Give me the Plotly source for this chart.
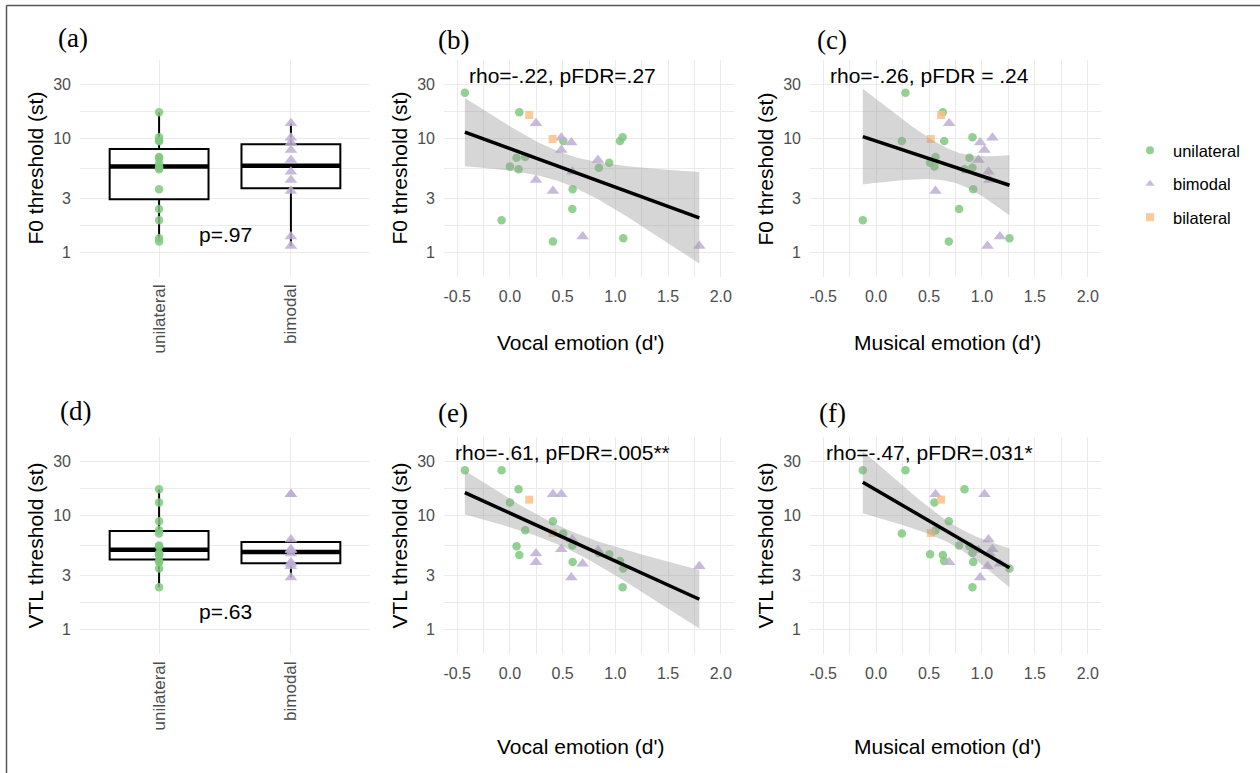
import numpy as np
import plotly.graph_objects as go

W, H = 1260, 773

# ---------------- data ----------------
groups = ["unilateral", "bimodal", "bilateral"]
colors = {"unilateral": "#7FC97F", "bimodal": "#BEAED4", "bilateral": "#FDC086"}
symbols = {"unilateral": "circle", "bimodal": "triangle-up", "bilateral": "square"}

# unilateral participants
uni_vocal   = [-0.427, -0.079, 0.000, 0.063, 0.082, 0.089, 0.145, 0.408, 0.506, 0.592, 0.595, 0.844, 0.942, 1.044, 1.069, 1.075]
uni_musical = [ 0.277, -0.126, 0.551, 0.882, 0.835, 0.630, 0.561, 0.687, 0.243, 0.784, 0.917, 0.910, 0.510, 0.643, 0.910, 1.260]
uni_f0      = [25.2, 1.93, 5.69, 6.81, 5.39, 17.0, 6.90, 1.26, 9.53, 2.42, 3.60, 5.57, 6.16, 9.53, 10.3, 1.34]
uni_vtl     = [24.9, 24.9, 13.0, 5.39, 17.0, 4.53, 7.44, 8.92, 6.96, 5.47, 3.93, 4.70, 4.60, 4.01, 2.36, 3.44]

# bimodal participants
bim_vocal   = [0.247, 0.487, 0.582, 0.487, 0.835, 0.592, 0.247, 0.408, 0.690, 1.796]
bim_musical = [0.690, 1.099, 0.983, 1.024, 0.967, 1.062, 1.070, 0.561, 1.170, 1.052]
bim_f0      = [13.6, 10.2, 9.27, 7.95, 6.50, 5.14, 4.35, 3.48, 1.39, 1.15]
bim_vtl     = [3.90, 5.08, 2.87, 15.4, 4.97, 6.17, 4.65, 15.4, 3.80, 3.60]

# bilateral participants
bil_vocal   = [0.183, 0.405]
bil_musical = [0.614, 0.517]
bil_f0      = [16.1, 9.93]
bil_vtl     = [13.8, 7.05]

CEILING = 24.0  # threshold values at ceiling are not in the group boxplots

stats_text = {
    "b": "rho=-.22, pFDR=.27",
    "c": "rho=-.26, pFDR = .24",
    "e": "rho=-.61, pFDR=.005**",
    "f": "rho=-.47, pFDR=.031*",
}
p_text = {"a": "p=.97", "d": "p=.63"}
cat_labels = ["unilateral", "bimodal"]
x_ticks = [-0.5, 0.0, 0.5, 1.0, 1.5, 2.0]
y_ticks = [1, 3, 10, 30]

T975_DF26 = 2.0555  # t quantile for 95% CI with n=28

data = {
    "unilateral": dict(vocal=uni_vocal, musical=uni_musical, f0=uni_f0, vtl=uni_vtl),
    "bimodal": dict(vocal=bim_vocal, musical=bim_musical, f0=bim_f0, vtl=bim_vtl),
    "bilateral": dict(vocal=bil_vocal, musical=bil_musical, f0=bil_f0, vtl=bil_vtl),
}

# ---------------- layout geometry (pixels) ----------------
col_px = [(80, 370), (444, 734), (810, 1101)]
row_px = [(60, 277), (437, 654)]


def px_x(x):
    return x / W


def px_y(y):
    return 1 - y / H


fig = go.Figure()

FONT = "Liberation Sans"
TICKFONT = dict(family=FONT, size=16, color="#4D4D4D")
GRID = "#EBEBEB"
YRANGE = [-0.211, 1.688]

layout_axes = {}
panel_ids = [["a", "b", "c"], ["d", "e", "f"]]
axis_n = {}
n = 0
for r in range(2):
    for c in range(3):
        n += 1
        pid = panel_ids[r][c]
        axis_n[pid] = n
        sfx = "" if n == 1 else str(n)
        xd = [px_x(col_px[c][0]), px_x(col_px[c][1])]
        yd = [px_y(row_px[r][1]), px_y(row_px[r][0])]
        yax = dict(type="log", range=YRANGE, domain=yd, anchor="x" + sfx,
                   tickmode="array", tickvals=y_ticks, ticktext=[str(v) for v in y_ticks],
                   showgrid=True, gridcolor=GRID, gridwidth=1.2,
                   minor=dict(tickmode="array", tickvals=[3 ** 0.5, 30 ** 0.5, 300 ** 0.5],
                              showgrid=True, gridcolor=GRID, gridwidth=0.6, ticks=""),
                   zeroline=False, showline=False, ticks="", tickfont=TICKFONT,
                   ticklabelstandoff=8)
        if c == 0:
            xax = dict(range=[0.4, 2.6], domain=xd, anchor="y" + sfx,
                       tickmode="array", tickvals=[1, 2], ticktext=cat_labels, tickangle=-90,
                       showgrid=True, gridcolor=GRID, gridwidth=1.2, zeroline=False,
                       showline=False, ticks="", tickfont=dict(family=FONT, size=17, color="#4D4D4D"),
                       ticklabelstandoff=3)
        else:
            xax = dict(range=[-0.625, 2.125], domain=xd, anchor="y" + sfx,
                       tickmode="array", tickvals=x_ticks, ticktext=["%.1f" % v for v in x_ticks],
                       showgrid=True, gridcolor=GRID, gridwidth=1.2,
                       minor=dict(tickmode="array", tickvals=[-0.25, 0.25, 0.75, 1.25, 1.75],
                                  showgrid=True, gridcolor=GRID, gridwidth=0.6, ticks=""),
                       zeroline=False, showline=False, ticks="", tickfont=TICKFONT,
                       ticklabelstandoff=8)
        layout_axes["xaxis" + sfx] = xax
        layout_axes["yaxis" + sfx] = yax


def refs(pid):
    k = axis_n[pid]
    s = "" if k == 1 else str(k)
    return "x" + s, "y" + s


MS = {"circle": 8.5, "triangle-up": 11, "square": 8}

# ---------------- box panels ----------------
BOXW = 0.75
for pid, var in (("a", "f0"), ("d", "vtl")):
    xr, yr = refs(pid)
    for i, g in enumerate(["unilateral", "bimodal"]):
        vals = [v for v in data[g][var] if v < CEILING]
        lv = np.log10(vals)
        q1, med, q3 = np.quantile(lv, [0.25, 0.5, 0.75])
        iqr = q3 - q1
        lo = lv[lv >= q1 - 1.5 * iqr].min()
        hi = lv[lv <= q3 + 1.5 * iqr].max()
        xpos = i + 1
        fig.add_trace(go.Box(x=[xpos], q1=[10 ** q1], median=[10 ** med], q3=[10 ** q3],
                             lowerfence=[10 ** lo], upperfence=[10 ** hi], width=BOXW,
                             fillcolor="white", line=dict(color="black", width=2),
                             whiskerwidth=0, boxpoints=False, showlegend=False,
                             hoverinfo="skip", xaxis=xr, yaxis=yr))
        fig.add_trace(go.Scatter(x=[xpos - BOXW / 2, xpos + BOXW / 2], y=[10 ** med, 10 ** med],
                                 mode="lines", line=dict(color="black", width=4.5),
                                 showlegend=False, hoverinfo="skip", xaxis=xr, yaxis=yr))
        fig.add_trace(go.Scatter(x=[xpos] * len(vals), y=vals, mode="markers",
                                 marker=dict(color=colors[g], symbol=symbols[g],
                                             size=MS[symbols[g]], opacity=0.85),
                                 showlegend=False, hoverinfo="skip", xaxis=xr, yaxis=yr))
    fig.add_annotation(x=1.5, y=np.log10(1.44), xref=xr, yref=yr, text=p_text[pid],
                       showarrow=False, xanchor="center", yanchor="middle",
                       font=dict(family=FONT, size=21, color="black"))

# ---------------- scatter panels ----------------
for pid, xvar, yvar in (("b", "vocal", "f0"), ("c", "musical", "f0"),
                        ("e", "vocal", "vtl"), ("f", "musical", "vtl")):
    xr, yr = refs(pid)
    allx, ally = [], []
    for g in groups:
        xs = data[g][xvar]
        ys = data[g][yvar]
        allx += xs
        ally += ys
        fig.add_trace(go.Scatter(x=xs, y=ys, mode="markers",
                                 marker=dict(color=colors[g], symbol=symbols[g],
                                             size=MS[symbols[g]], opacity=0.85),
                                 showlegend=False, hoverinfo="skip", xaxis=xr, yaxis=yr))
    # linear fit on log10 scale with 95% CI
    X = np.array(allx)
    Y = np.log10(np.array(ally))
    nn = len(X)
    b1, b0 = np.polyfit(X, Y, 1)
    res = Y - (b0 + b1 * X)
    s = np.sqrt((res ** 2).sum() / (nn - 2))
    xg = np.linspace(X.min(), X.max(), 80)
    fit = b0 + b1 * xg
    se = s * np.sqrt(1 / nn + (xg - X.mean()) ** 2 / ((X - X.mean()) ** 2).sum())
    up = fit + T975_DF26 * se
    lo = fit - T975_DF26 * se
    fig.add_trace(go.Scatter(x=np.concatenate([xg, xg[::-1]]),
                             y=10 ** np.concatenate([up, lo[::-1]]),
                             fill="toself", fillcolor="rgba(153,153,153,0.4)",
                             line=dict(width=0), mode="lines", showlegend=False,
                             hoverinfo="skip", xaxis=xr, yaxis=yr))
    fig.add_trace(go.Scatter(x=xg, y=10 ** fit, mode="lines",
                             line=dict(color="black", width=3.5), showlegend=False,
                             hoverinfo="skip", xaxis=xr, yaxis=yr))
    fig.add_annotation(x=0.5, y=np.log10(36), xref=xr, yref=yr, text=stats_text[pid],
                       showarrow=False, xanchor="center", yanchor="middle",
                       font=dict(family=FONT, size=21, color="black"))

# ---------------- legend ----------------
for g in groups:
    fig.add_trace(go.Scatter(x=[None], y=[None], mode="markers", name=g, legendgroup=g,
                             marker=dict(color=colors[g], symbol=symbols[g], size=8, opacity=0.85)))

# ---------------- titles ----------------
ann = []
ytitles = ["F0 threshold (st)", "VTL threshold (st)"]
ytitle_x = [35, 399, 765]
xtitle = {1: "Vocal emotion (d')", 2: "Musical emotion (d')"}
xtitle_x = {1: 580, 2: 947}
xtitle_y = [342, 746]
for r in range(2):
    yc = (row_px[r][0] + row_px[r][1]) / 2
    for c in range(3):
        ann.append(dict(x=px_x(ytitle_x[c]), y=px_y(yc), xref="paper", yref="paper",
                        text=ytitles[r], textangle=-90, showarrow=False,
                        xanchor="center", yanchor="middle",
                        font=dict(family=FONT, size=21, color="black")))
        if c > 0:
            ann.append(dict(x=px_x(xtitle_x[c]), y=px_y(xtitle_y[r]), xref="paper", yref="paper",
                            text=xtitle[c], showarrow=False, xanchor="center", yanchor="middle",
                            font=dict(family=FONT, size=21, color="black")))

panel_pos = {"a": (73, 38), "b": (453, 40), "c": (832, 40),
             "d": (75, 411), "e": (453, 413), "f": (832, 413)}
for pid, (px, py) in panel_pos.items():
    ann.append(dict(x=px_x(px), y=px_y(py), xref="paper", yref="paper", text="(%s)" % pid,
                    showarrow=False, xanchor="center", yanchor="middle",
                    font=dict(family="Liberation Serif", size=27, color="black")))

for a in ann:
    fig.add_annotation(**a)

# frame
fig.add_shape(type="line", xref="paper", yref="paper", x0=px_x(6.5), x1=1, y0=px_y(5.5), y1=px_y(5.5),
              line=dict(color="#555555", width=1.5))
fig.add_shape(type="line", xref="paper", yref="paper", x0=px_x(6.5), x1=px_x(6.5), y0=0, y1=px_y(5.5),
              line=dict(color="#555555", width=1.5))

fig.update_layout(
    width=W, height=H, margin=dict(l=0, r=0, t=0, b=0),
    paper_bgcolor="white", plot_bgcolor="white",
    font=dict(family=FONT, color="black"),
    showlegend=True,
    legend=dict(x=px_x(1127), y=px_y(133), xanchor="left", yanchor="top",
                font=dict(family=FONT, size=16.5, color="black"),
                tracegroupgap=9, itemwidth=36, bgcolor="rgba(0,0,0,0)"),
    **layout_axes,
)

fig.write_html("out.html", config={"displayModeBar": False},
               post_script="document.body.style.margin='0';document.body.style.padding='0';"
                           "document.body.style.overflow='hidden';")
